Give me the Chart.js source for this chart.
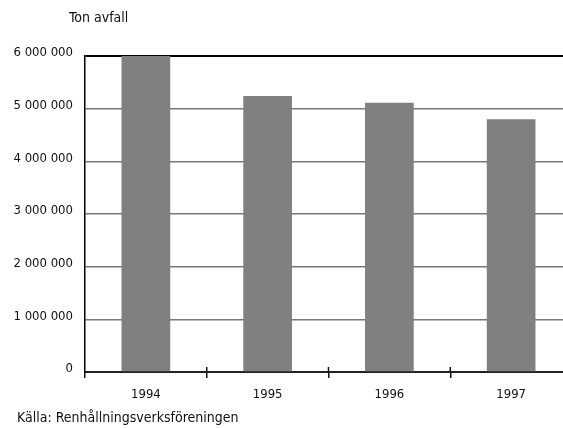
<!DOCTYPE html>
<html>
<head>
<meta charset="utf-8">
<script src="https://cdn.jsdelivr.net/npm/chart.js@4/dist/chart.umd.min.js"></script>
<style>
  html, body { margin: 0; padding: 0; background: #fff; overflow: hidden; }
  #wrap { position: relative; width: 563px; height: 428px; overflow: hidden; }
  #soldChart { position: absolute; left: 0; top: 0; }
  .txt { position: absolute; font-family: 'DejaVu Sans Condensed', 'Liberation Sans Narrow', sans-serif;
         font-size: 14px; line-height: 14px; color: #111; white-space: nowrap; }
</style>
</head>
<body>
<div id="wrap">
  <canvas id="soldChart" width="580" height="428"></canvas>
  <div class="txt" style="left:69px; top:10px;">Ton avfall</div>
  <div class="txt" style="left:17px; top:410px;">Källa: Renhållningsverksföreningen</div>
</div>
<script>
var years = ['1994', '1995', '1996', '1997'];
var tonAvfall = [6000000, 5240000, 5110000, 4800000];
var yMax = 6000000;
var yStep = 1000000;

function spaced(v) {
    return String(v).replace(/\B(?=(\d{3})+(?!\d))/g, ' ');
}

Chart.defaults.font.family = "'DejaVu Sans Condensed', 'Liberation Sans Narrow', sans-serif";

// the category ticks in the reference cross the axis line, so add the upper half
var crossTicks = {
    id: 'crossTicks',
    afterDraw: function (chart) {
        var x = chart.scales.x;
        var c = chart.ctx;
        c.save();
        c.strokeStyle = '#111';
        c.lineWidth = 1.5;
        for (var i = 1; i < years.length; i++) {
            var px = (x.getPixelForValue(i - 1) + x.getPixelForValue(i)) / 2;
            c.beginPath();
            c.moveTo(px, x.top - 5);
            c.lineTo(px, x.top);
            c.stroke();
        }
        c.restore();
    }
};

var ctx = document.getElementById('soldChart').getContext('2d');

var myChart = new Chart(ctx, {
    type: 'bar',
    data: {
        labels: years,
        datasets: [{
            label: 'Ton avfall',
            data: tonAvfall,
            backgroundColor: '#808080',
            borderWidth: 0,
            barPercentage: 0.4,
            categoryPercentage: 1
        }]
    },
    options: {
        responsive: false,
        animation: false,
        layout: { padding: { left: 0, right: 8, top: 56, bottom: 0 } },
        plugins: {
            legend: { display: false },
            tooltip: { enabled: false }
        },
        scales: {
            x: {
                grid: { drawOnChartArea: false, drawTicks: true, tickLength: 6, color: '#111', lineWidth: 1.5 },
                border: { color: '#222', width: 2 },
                ticks: { padding: 9, color: '#111', font: { size: 13 } },
                afterFit: function (scale) { scale.height = 56; }
            },
            y: {
                min: 0,
                max: yMax,
                grid: {
                    drawTicks: false,
                    color: function (c) { return c.tick && c.tick.value === yMax ? '#000' : '#777'; },
                    lineWidth: function (c) { return c.tick && c.tick.value === yMax ? 2 : 1.5; }
                },
                border: { color: '#000', width: 1.5 },
                ticks: {
                    stepSize: yStep,
                    padding: 12,
                    color: '#111',
                    font: { size: 13, lineHeight: '6px' },
                    // empty second line lifts the label a few pixels above its grid line
                    callback: function (v) { return [spaced(v), '']; }
                },
                afterFit: function (scale) { scale.width = 85; }
            }
        }
    },
    plugins: [crossTicks]
});
</script>
</body>
</html>
